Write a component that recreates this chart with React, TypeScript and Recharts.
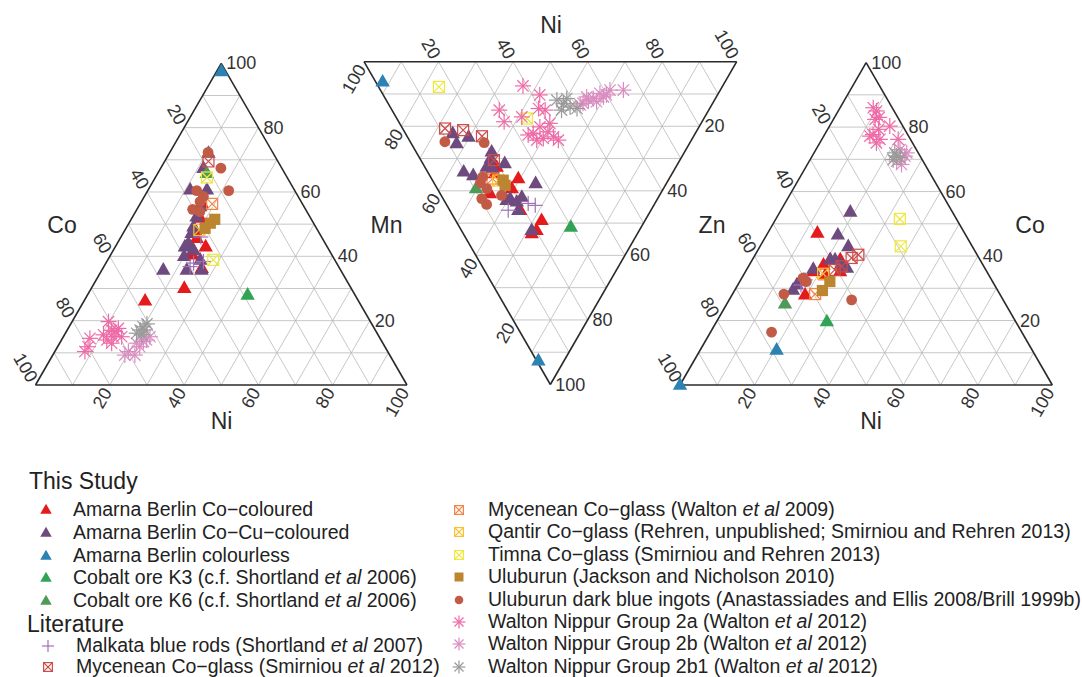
import React from 'react';
import { ScatterChart, Scatter, XAxis, YAxis, ReferenceLine } from 'recharts';

type Pt = [number, number];

// ---------------- DATA (wt% compositions) ----------------
// Plot 1  Co–Mn–Ni : entries are [Mn, Ni]   (Co = 100 − Mn − Ni)
const coColoured_MnNi: Pt[] = [[26.2, 16.4], [30.1, 25.0], [36.3, 26.6], [43.0, 24.3], [51.9, 18.4], [45.6, 20.6], [42.0, 21.5], [56.5, 16.5], [48, 19], [40.5, 22]];
const coCu_MnNi: Pt[] = [[35.8, 16.5], [35.8, 22.8], [35.8, 26.8], [44.1, 19.1], [42.0, 21.5], [60.7, 11.3], [67.4, 11.5], [72.1, 10.5], [60.7, 15.8], [49.2, 17.9], [47.2, 18.4], [52.3, 17.2], [55.5, 16.6], [43.0, 18.7], [38.9, 24.9], [40, 20]];
const colourless_MnNi: Pt[] = [[97.5, 1.3]];
const oreK3_MnNi: Pt[] = [[28.0, 43.1]];
const oreK6_MnNi: Pt[] = [[65.8, 13.2]];
const malkata_MnNi: Pt[] = [[37.9, 23.6], [38.4, 26.0], [36.8, 23.2], [46, 21.5]];
const mycSmir_MnNi: Pt[] = [[69.5, 11.8]];
const mycWalton_MnNi: Pt[] = [[56.3, 19.4]];
const qantir_MnNi: Pt[] = [[48.2, 20.0]];
const timna_MnNi: Pt[] = [[64.5, 13.9], [38.9, 28.4]];
const uluburun_MnNi: Pt[] = [[50.3, 21.9], [48.7, 21.3], [51.5, 22.5]];
const ingots_MnNi: Pt[] = [[72.3, 10.3], [67.4, 16.2], [60.4, 21.8], [60.4, 13.2], [57.0, 15.8], [54.6, 15.0], [53.9, 17.3], [58.6, 15.9]];
const nip2a_MnNi: Pt[] = [[19.7, 9.8], [17.6, 13.5], [15.0, 13.4], [14.0, 12.2], [15.0, 15.7], [14.5, 7.4], [10.4, 8.1], [11.9, 8.2], [16.6, 13.1], [15.6, 10.5], [17, 12], [13, 14]];
const nip2b_MnNi: Pt[] = [[14.0, 22.9], [11.9, 22.1], [9.3, 22.1], [15.0, 23.3], [13.5, 22.3], [10.4, 19.8], [13.0, 20.7], [9.3, 19.4]];
const nip2b1_MnNi: Pt[] = [[17.1, 19.6], [18.1, 19.9], [16.1, 19.2], [15.6, 20.8], [17.1, 20.9], [19, 20.5]];

// Plot 2  Mn–Ni–Zn : entries are [Zn, Ni]   (Mn = 100 − Zn − Ni)
const coColoured_ZnNi: Pt[] = [[36.2, 23.3], [32.6, 19.3], [40.8, 13.4], [46.0, 18.9], [49.1, 23.1], [52.2, 20.2], [53.2, 18.4], [34.6, 17.8], [39.3, 20.0], [31, 19]];
const coCu_ZnNi: Pt[] = [[22.2, 12.7], [25.3, 12.2], [23.3, 16.4], [27.9, 20.3], [32.6, 16.6], [31.5, 22.0], [34.1, 9.7], [35.2, 11.7], [37.7, 27.2], [42.4, 18.0], [43.4, 19.3], [41.9, 21.4], [46.0, 18.4], [52.2, 18.9], [42.9, 16.8], [30, 19], [33, 18]];
const colourless_ZnNi: Pt[] = [[6.2, 1.9], [92.6, 0.5]];
const oreK3_ZnNi: Pt[] = [[51.2, 29.9]];
const oreK6_ZnNi: Pt[] = [[39.3, 10.4]];
const malkata_ZnNi: Pt[] = [[44.5, 23.7], [43.9, 22.1], [46.0, 15.7]];
const mycSmir_ZnNi: Pt[] = [[20.7, 11.4], [21.2, 16.0], [23.1, 20.1], [30.5, 19.6]];
const mycWalton_ZnNi: Pt[] = [[36.2, 16.4]];
const qantir_ZnNi: Pt[] = [[36.8, 17.6]];
const timna_ZnNi: Pt[] = [[7.8, 16.2], [17.6, 34.9]];
const uluburun_ZnNi: Pt[] = [[36.7, 19.0], [38.3, 18.7]];
const ingots_ZnNi: Pt[] = [[24.8, 9.3], [25.1, 19.7], [35.7, 14.0], [39.3, 13.3], [42.4, 10.4], [44.2, 10.8], [41.4, 16.2], [37.5, 12.5]];
const nip2a_ZnNi: Pt[] = [[7.5, 38.9], [10.3, 42.0], [15.0, 28.8], [18.6, 28.3], [14.5, 39.6], [15.0, 41.1], [19.1, 40.3], [20.2, 37.1], [22.7, 32.7], [23.8, 36.2], [23.3, 39.2], [21.7, 38.5], [22.2, 34.3], [24.3, 40.0], [24.3, 34.2], [17.1, 33.8]];
const nip2b_ZnNi: Pt[] = [[10.9, 54.3], [11.4, 55.8], [10.9, 58.8], [8.8, 61.6], [9.8, 58.4], [8.8, 65.2], [12.9, 52.3], [12.4, 56.2], [10.3, 59.9], [11.9, 54.3], [13.4, 51.3]];
const nip2b1_ZnNi: Pt[] = [[11.9, 45.8], [11.4, 48.7], [15.0, 45.5], [14.0, 48.3], [14.5, 49.9], [13, 47]];

// Plot 3  Zn–Co–Ni : entries are [Co, Ni]   (Zn = 100 − Co − Ni)
const coColoured_CoNi: Pt[] = [[47.2, 13.3], [28.0, 19.6], [35.2, 25.4], [38.9, 23.6], [37.3, 19.9], [32.1, 16.1], [35.2, 18.2], [38.9, 20.9], [34, 22]];
const coCu_CoNi: Pt[] = [[53.7, 18.9], [46.6, 19.1], [43.0, 23.7], [36.0, 17.8], [38.9, 20.9], [38.9, 22.2], [36.3, 26.7], [29.5, 15.6], [31.1, 15.8], [37.5, 24.5]];
const colourless_CoNi: Pt[] = [[0, 0], [10.9, 20.5]];
const oreK3_CoNi: Pt[] = [[19.7, 29.6]];
const oreK6_CoNi: Pt[] = [[25.2, 15.6]];
const malkata_CoNi: Pt[] = [[32.6, 17.3], [31, 17]];
const mycSmir_CoNi: Pt[] = [[40.4, 27.7], [39.4, 26.4], [36.8, 25.0], [35.7, 23.7]];
const mycWalton_CoNi: Pt[] = [[28.2, 22.2]];
const qantir_CoNi: Pt[] = [[34.5, 21.2]];
const timna_CoNi: Pt[] = [[51.5, 33.3], [43.0, 37.8]];
const uluburun_CoNi: Pt[] = [[32.1, 24.2], [29.3, 23.6]];
const ingots_CoNi: Pt[] = [[16.4, 16.4], [28.2, 13.8], [26.4, 32.9], [33.2, 16.5], [32.1, 17.9]];
const nip2a_CoNi: Pt[] = [[86.0, 8.9], [85.0, 10.3], [79.3, 13.7], [77.7, 13.0], [76.2, 15.6], [80.3, 16.2], [75.1, 15.2], [82.4, 11.2], [76.2, 20.5], [77.2, 12.4], [83, 12]];
const nip2b_CoNi: Pt[] = [[73.0, 22.6], [71.0, 24.9], [72.0, 24.9], [69.4, 23.5], [68.4, 25.3]];
const nip2b1_CoNi: Pt[] = [[71.0, 22.7], [69.9, 22.3], [70.5, 23.9], [72.0, 21.7]];

const TICK_VALUES = [20, 40, 60, 80, 100];
const GRID_VALUES = [10, 20, 30, 40, 50, 60, 70, 80, 90];

type Kind = 'tri' | 'box' | 'square' | 'circle' | 'plus' | 'star';
interface Series { name: string; color: string; kind: Kind; p1: Pt[]; p2: Pt[]; p3: Pt[]; }

const SERIES: Series[] = [
  { name: 'Amarna Berlin Co−coloured', color: '#E41A1C', kind: 'tri', p1: coColoured_MnNi, p2: coColoured_ZnNi, p3: coColoured_CoNi },
  { name: 'Amarna Berlin Co−Cu−coloured', color: '#6E4A7E', kind: 'tri', p1: coCu_MnNi, p2: coCu_ZnNi, p3: coCu_CoNi },
  { name: 'Amarna Berlin colourless', color: '#2B82B3', kind: 'tri', p1: colourless_MnNi, p2: colourless_ZnNi, p3: colourless_CoNi },
  { name: 'Cobalt ore K3 (c.f. Shortland et al 2006)', color: '#31A354', kind: 'tri', p1: oreK3_MnNi, p2: oreK3_ZnNi, p3: oreK3_CoNi },
  { name: 'Cobalt ore K6 (c.f. Shortland et al 2006)', color: '#4F9A58', kind: 'tri', p1: oreK6_MnNi, p2: oreK6_ZnNi, p3: oreK6_CoNi },
  { name: 'Malkata blue rods (Shortland et al 2007)', color: '#A070B8', kind: 'plus', p1: malkata_MnNi, p2: malkata_ZnNi, p3: malkata_CoNi },
  { name: 'Mycenean Co−glass (Smirniou et al 2012)', color: '#CC4D4A', kind: 'box', p1: mycSmir_MnNi, p2: mycSmir_ZnNi, p3: mycSmir_CoNi },
  { name: 'Mycenean Co−glass (Walton et al 2009)', color: '#F58343', kind: 'box', p1: mycWalton_MnNi, p2: mycWalton_ZnNi, p3: mycWalton_CoNi },
  { name: 'Qantir Co−glass (Rehren, unpublished; Smirniou and Rehren 2013)', color: '#FBC02D', kind: 'box', p1: qantir_MnNi, p2: qantir_ZnNi, p3: qantir_CoNi },
  { name: 'Timna Co−glass (Smirniou and Rehren 2013)', color: '#EEE83A', kind: 'box', p1: timna_MnNi, p2: timna_ZnNi, p3: timna_CoNi },
  { name: 'Uluburun (Jackson and Nicholson 2010)', color: '#BC8631', kind: 'square', p1: uluburun_MnNi, p2: uluburun_ZnNi, p3: uluburun_CoNi },
  { name: 'Uluburun dark blue ingots (Anastassiades and Ellis 2008/Brill 1999b)', color: '#C25B45', kind: 'circle', p1: ingots_MnNi, p2: ingots_ZnNi, p3: ingots_CoNi },
  { name: 'Walton Nippur Group 2a (Walton et al 2012)', color: '#EE6AA7', kind: 'star', p1: nip2a_MnNi, p2: nip2a_ZnNi, p3: nip2a_CoNi },
  { name: 'Walton Nippur Group 2b (Walton et al 2012)', color: '#DA8DC0', kind: 'star', p1: nip2b_MnNi, p2: nip2b_ZnNi, p3: nip2b_CoNi },
  { name: 'Walton Nippur Group 2b1 (Walton et al 2012)', color: '#9A9A9A', kind: 'star', p1: nip2b1_MnNi, p2: nip2b1_ZnNi, p3: nip2b1_CoNi },
];

// ---------------- GEOMETRY (chart space = page pixels) ----------------
type V2 = [number, number];
interface Tri { A: V2; B: V2; C: V2; up: boolean; }
const TRI1: Tri = { A: [221.25, 63.3], B: [35.5, 385], C: [407, 385], up: true };      // A=Mn, B=Co, C=Ni
const TRI2: Tri = { A: [364, 61.7], B: [736.7, 61.7], C: [550.35, 384.5], up: false }; // A=Mn, B=Ni, C=Zn
const TRI3: Tri = { A: [866.15, 62.6], B: [680, 385], C: [1052.3, 385], up: true };    // A=Co, B=Zn, C=Ni

function bary(t: Tri, a: number, b: number, c: number) {
  const s = a + b + c;
  return { x: (a * t.A[0] + b * t.B[0] + c * t.C[0]) / s, y: (a * t.A[1] + b * t.B[1] + c * t.C[1]) / s };
}
const map1 = ([mn, ni]: Pt) => bary(TRI1, mn, 100 - mn - ni, ni);
const map2 = ([zn, ni]: Pt) => bary(TRI2, 100 - zn - ni, ni, zn);
const map3 = ([co, ni]: Pt) => bary(TRI3, co, 100 - co - ni, ni);

const TITLES = [
  { text: 'Co', x: 62, y: 225 }, { text: 'Mn', x: 386.5, y: 225 }, { text: 'Ni', x: 221.5, y: 421 },
  { text: 'Ni', x: 551, y: 25 }, { text: 'Zn', x: 712, y: 225 }, { text: 'Co', x: 1030, y: 225 }, { text: 'Ni', x: 871, y: 421 },
];

const K = 0.866;
function tickLabels(t: Tri) {
  const out: any[] = [];
  TICK_VALUES.forEach((v) => {
    const s = String(v);
    if (t.up) {
      const l = bary(t, 100 - v, v, 0); out.push({ x: l.x - 2.5, y: l.y - 5 * K, text: s, rot: 60, anchor: 'end' });
      const b = bary(t, 0, 100 - v, v); out.push({ x: b.x - 2.5, y: b.y + 5 * K, text: s, rot: -60, anchor: 'end' });
      const r = bary(t, v, 0, 100 - v); out.push({ x: r.x + 5, y: r.y, text: s, rot: 0, anchor: 'start' });
    } else {
      const tp = bary(t, 100 - v, v, 0); out.push({ x: tp.x - 2.5, y: tp.y - 5 * K, text: s, rot: 60, anchor: 'end' });
      const l = bary(t, v, 0, 100 - v); out.push({ x: l.x - 2.5, y: l.y + 5 * K, text: s, rot: -60, anchor: 'end' });
      const r = bary(t, 0, 100 - v, v); out.push({ x: r.x + 5, y: r.y, text: s, rot: 0, anchor: 'start' });
    }
  });
  return out;
}
function gridSegments(t: Tri) {
  const segs: { p: any[]; edge: boolean }[] = [];
  GRID_VALUES.forEach((v) => {
    const w = 100 - v;
    segs.push({ p: [bary(t, v, w, 0), bary(t, v, 0, w)], edge: false });
    segs.push({ p: [bary(t, w, v, 0), bary(t, 0, v, w)], edge: false });
    segs.push({ p: [bary(t, w, 0, v), bary(t, 0, w, v)], edge: false });
  });
  segs.push({ p: [bary(t, 1, 0, 0), bary(t, 0, 1, 0)], edge: true });
  segs.push({ p: [bary(t, 0, 1, 0), bary(t, 0, 0, 1)], edge: true });
  segs.push({ p: [bary(t, 0, 0, 1), bary(t, 1, 0, 0)], edge: true });
  return segs;
}

// ---------------- MARKERS ----------------
function Marker({ kind, color, cx, cy, s = 1 }: { kind: Kind; color: string; cx: number; cy: number; s?: number }) {
  switch (kind) {
    case 'tri': {
      const w = 7.2 * s, h1 = 7.8 * s, h2 = 4.8 * s;
      return <polygon points={`${cx},${cy - h1} ${cx - w},${cy + h2} ${cx + w},${cy + h2}`} fill={color} />;
    }
    case 'box': {
      const r = 5.5 * s;
      return (
        <g stroke={color} strokeWidth={1.2} fill="none">
          <rect x={cx - r} y={cy - r} width={2 * r} height={2 * r} />
          <line x1={cx - r} y1={cy - r} x2={cx + r} y2={cy + r} />
          <line x1={cx - r} y1={cy + r} x2={cx + r} y2={cy - r} />
        </g>
      );
    }
    case 'square': {
      const r = 5.6 * s;
      return <rect x={cx - r} y={cy - r} width={2 * r} height={2 * r} fill={color} />;
    }
    case 'circle':
      return <circle cx={cx} cy={cy} r={5.4 * s} fill={color} />;
    case 'plus': {
      const r = 7.5 * s;
      return (
        <g stroke={color} strokeWidth={1.2}>
          <line x1={cx - r} y1={cy} x2={cx + r} y2={cy} />
          <line x1={cx} y1={cy - r} x2={cx} y2={cy + r} />
        </g>
      );
    }
    case 'star': {
      const r = 8 * s, d = r * 0.7071;
      return (
        <g stroke={color} strokeWidth={1.2}>
          <line x1={cx - r} y1={cy} x2={cx + r} y2={cy} />
          <line x1={cx} y1={cy - r} x2={cx} y2={cy + r} />
          <line x1={cx - d} y1={cy - d} x2={cx + d} y2={cy + d} />
          <line x1={cx - d} y1={cy + d} x2={cx + d} y2={cy - d} />
        </g>
      );
    }
  }
  return null;
}

const FONT = '"Liberation Sans", Arial, Helvetica, sans-serif';

function renderEtAl(name: string) {
  const parts = name.split('et al');
  if (parts.length === 1) return name;
  return (<>{parts[0]}<i>et al</i>{parts[1]}</>);
}

// legend layout
const LEG_COL1 = [
  { head: 'This Study', y: 481, x: 29 },
  { idx: 0, y: 510 }, { idx: 1, y: 533 }, { idx: 2, y: 555.5 }, { idx: 3, y: 578 }, { idx: 4, y: 601 },
  { head: 'Literature', y: 624, x: 27 },
  { idx: 5, y: 645.5, ind: true }, { idx: 6, y: 667, ind: true },
];
const LEG_COL2 = [7, 8, 9, 10, 11, 12, 13, 14].map((idx, i) => ({ idx, y: 510 + i * 22.4 }));

export default function App() {
  const tris = [TRI1, TRI2, TRI3];
  const labels = tris.flatMap(tickLabels);
  const segs = tris.flatMap(gridSegments);
  return (
    <div style={{ position: 'absolute', left: 0, top: 0, width: 1082, height: 677, background: '#fff', fontFamily: FONT }}>
      <ScatterChart width={1082} height={677} margin={{ top: 0, right: 0, bottom: 0, left: 0 }}>
        <XAxis type="number" dataKey="x" domain={[0, 1082]} hide />
        <YAxis type="number" dataKey="y" domain={[0, 677]} reversed hide />
        {segs.filter((s) => !s.edge).map((s, i) => (
          <ReferenceLine key={'g' + i} segment={s.p} stroke="#b9b9b9" strokeWidth={0.8} ifOverflow="visible" />
        ))}
        {segs.filter((s) => s.edge).map((s, i) => (
          <ReferenceLine key={'e' + i} segment={s.p} stroke="#2a2a2a" strokeWidth={1.6} ifOverflow="visible" />
        ))}
        {SERIES.map((se) => (
          <Scatter
            key={se.name}
            name={se.name}
            data={[...se.p1.map(map1), ...se.p2.map(map2), ...se.p3.map(map3)]}
            isAnimationActive={false}
            shape={(p: any) => <Marker kind={se.kind} color={se.color} cx={p.cx} cy={p.cy} />}
          />
        ))}
        <Scatter
          data={labels}
          isAnimationActive={false}
          shape={(p: any) => (
            <text x={p.cx} y={p.cy} textAnchor={p.payload.anchor} dominantBaseline="central" fontSize={18} fill="#333"
              fontFamily={FONT} transform={`rotate(${p.payload.rot}, ${p.cx}, ${p.cy})`}>{p.payload.text}</text>
          )}
        />
        <Scatter
          data={TITLES}
          isAnimationActive={false}
          shape={(p: any) => (
            <text x={p.cx} y={p.cy} textAnchor="middle" dominantBaseline="central" fontSize={23} fill="#2a2a2a" fontFamily={FONT}>{p.payload.text}</text>
          )}
        />
      </ScatterChart>
      {LEG_COL1.map((e: any, i) =>
        e.head ? (
          <div key={'h' + i} style={{ position: 'absolute', left: e.x, top: e.y, transform: 'translateY(-50%)', fontSize: 23, lineHeight: 1, color: '#222', whiteSpace: 'nowrap' }}>{e.head}</div>
        ) : (
          <React.Fragment key={'c1' + i}>
            <svg style={{ position: 'absolute', left: (e.ind ? 48 : 46) - 8, top: e.y - 8 }} width={16} height={16}>
              <Marker kind={SERIES[e.idx].kind} color={SERIES[e.idx].color} cx={8} cy={8} s={0.8} />
            </svg>
            <div style={{ position: 'absolute', left: e.ind ? 76 : 73, top: e.y, transform: 'translateY(-50%)', fontSize: 19.5, lineHeight: 1, color: '#222', whiteSpace: 'nowrap' }}>{renderEtAl(SERIES[e.idx].name)}</div>
          </React.Fragment>
        )
      )}
      {LEG_COL2.map((e, i) => (
        <React.Fragment key={'c2' + i}>
          <svg style={{ position: 'absolute', left: 459 - 8, top: e.y - 8 }} width={16} height={16}>
            <Marker kind={SERIES[e.idx].kind} color={SERIES[e.idx].color} cx={8} cy={8} s={0.8} />
          </svg>
          <div style={{ position: 'absolute', left: 488, top: e.y, transform: 'translateY(-50%)', fontSize: 19.5, lineHeight: 1, color: '#222', whiteSpace: 'nowrap' }}>{renderEtAl(SERIES[e.idx].name)}</div>
        </React.Fragment>
      ))}
    </div>
  );
}
